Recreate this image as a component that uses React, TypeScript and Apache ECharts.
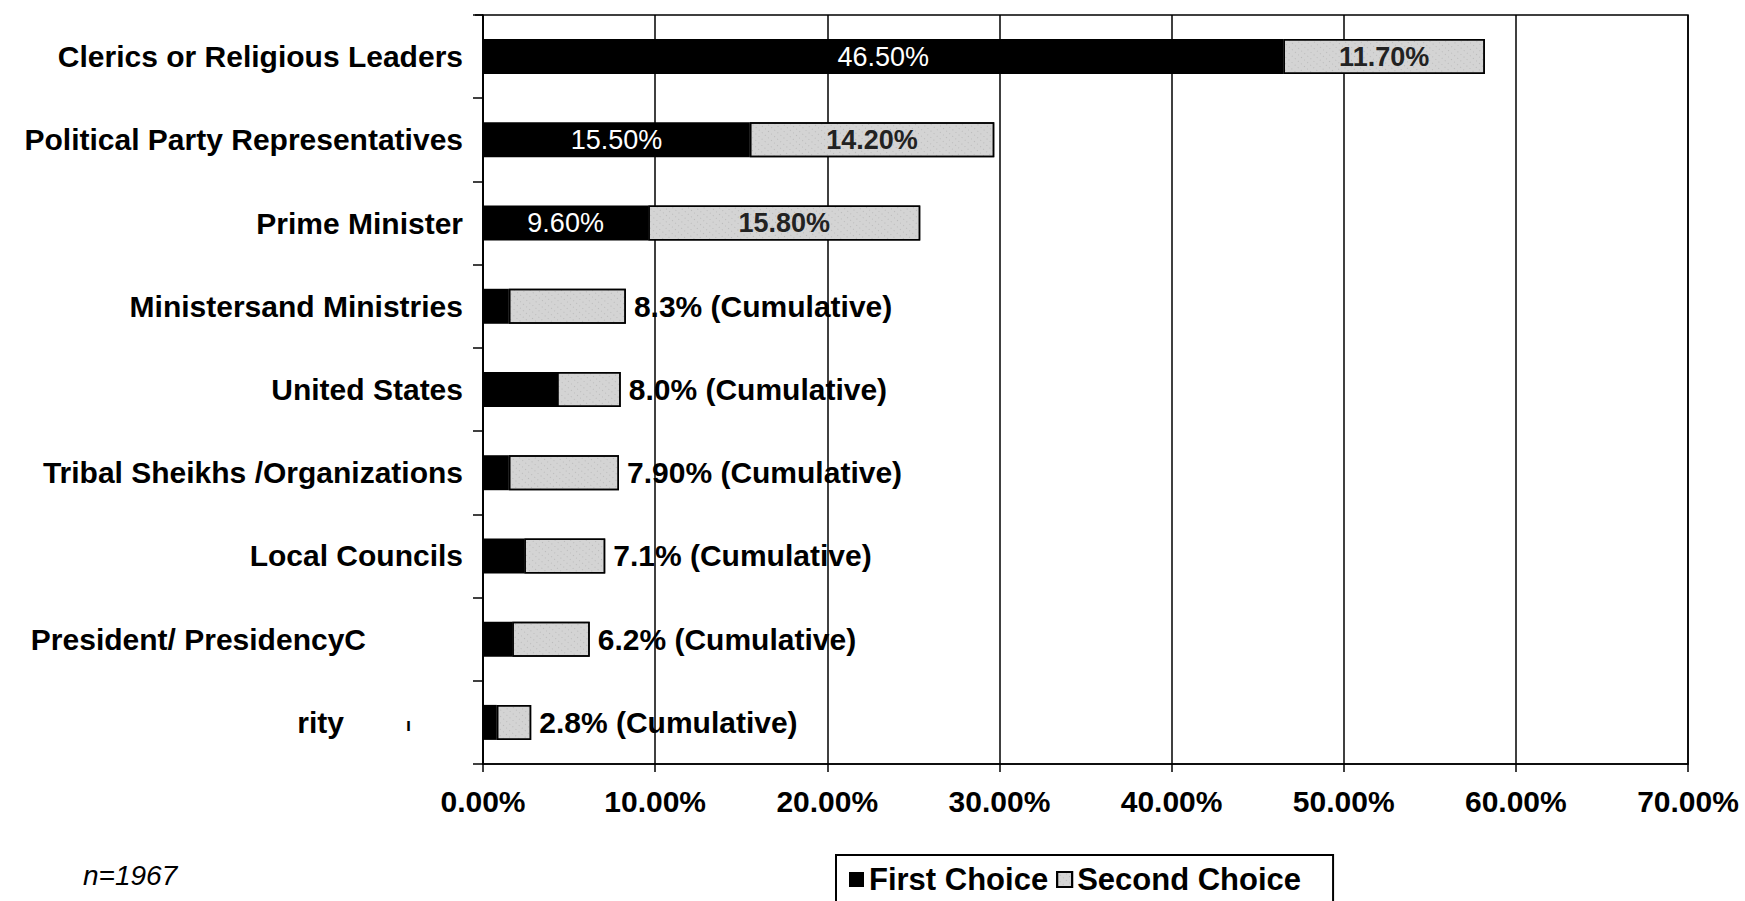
import React, { useEffect, useRef } from "react";
import * as echarts from "echarts";

const categories = [
  "Clerics or Religious Leaders",
  "Political Party Representatives",
  "Prime Minister",
  "Ministersand Ministries",
  "United States",
  "Tribal Sheikhs /Organizations",
  "Local Councils",
  "President/ PresidencyC",
  "rity",
];
const firstChoice = [46.5, 15.5, 9.6, 1.5, 4.3, 1.5, 2.4, 1.7, 0.8];
const secondChoice = [11.7, 14.2, 15.8, 6.8, 3.7, 6.4, 4.7, 4.5, 2.0];
const firstLabels = ["46.50%", "15.50%", "9.60%", "", "", "", "", "", ""];
const secondLabels = [
  "11.70%",
  "14.20%",
  "15.80%",
  "8.3% (Cumulative)",
  "8.0% (Cumulative)",
  "7.90% (Cumulative)",
  "7.1% (Cumulative)",
  "6.2% (Cumulative)",
  "2.8% (Cumulative)",
];
const xMin = 0;
const xMax = 70;
const xStep = 10;
const seriesNames = ["First Choice", "Second Choice"];
const note = "n=1967";

const FONT = "'Liberation Sans', Arial, Helvetica, sans-serif";

export default function App() {
  const ref = useRef<HTMLDivElement>(null);
  useEffect(() => {
    document.body.style.margin = "0";
    const chart = echarts.init(ref.current!, null, { renderer: "svg" });
    const option: any = {
      animation: false,
      backgroundColor: "#fff",
      textStyle: { fontFamily: FONT },
      grid: {
        left: 483,
        right: 57,
        top: 15,
        bottom: 137,
        show: true,
        borderColor: "#000",
        borderWidth: 1.5,
        containLabel: false,
      },
      legend: {
        data: seriesNames,
        left: 836,
        top: 855,
        orient: "horizontal",
        icon: "rect",
        borderColor: "#000",
        borderWidth: 2,
        padding: [9, 32, 40, 13],
        itemWidth: 15,
        itemHeight: 15,
        itemGap: 8,
        textStyle: { fontFamily: FONT, fontSize: 31, fontWeight: "bold", color: "#000" },
      },
      xAxis: {
        type: "value",
        min: xMin,
        max: xMax,
        interval: xStep,
        axisLine: { show: true, lineStyle: { color: "#000", width: 1.5 } },
        axisTick: { show: true, length: 8, lineStyle: { color: "#000", width: 1.5 } },
        splitLine: { show: true, lineStyle: { color: "#000", width: 1.5 } },
        axisLabel: {
          formatter: (v: number) => v.toFixed(2) + "%",
          fontFamily: FONT,
          fontSize: 30,
          fontWeight: "bold",
          color: "#000",
          margin: 22,
        },
      },
      yAxis: {
        type: "category",
        data: categories,
        inverse: true,
        axisLine: { show: true, lineStyle: { color: "#000", width: 1.5 } },
        axisTick: { show: true, length: 10, lineStyle: { color: "#000", width: 1.5 } },
        axisLabel: {
          fontFamily: FONT,
          fontSize: 30,
          fontWeight: "bold",
          color: "#000",
          margin: 20,
          formatter: (v: string) => {
            if (v === "rity") return "{a|rity}{g| }{m|ı}{h| }";
            if (v === "President/ PresidencyC") return "{a|" + v + "}{p| }";
            return v;
          },
          rich: {
            a: { fontFamily: FONT, fontSize: 30, fontWeight: "bold", color: "#000" },
            g: { width: 62, fontSize: 10 },
            m: { fontFamily: FONT, fontSize: 18, color: "#000", padding: [6, 0, 0, 0] },
            h: { width: 52, fontSize: 10 },
            p: { width: 97, fontSize: 10 },
          },
        },
      },
      series: [
        {
          name: seriesNames[0],
          type: "bar",
          stack: "total",
          barWidth: 35,
          itemStyle: { color: "#000" },
          data: firstChoice.map((v, i) => ({
            value: v,
            label: {
              show: firstLabels[i] !== "",
              position: "inside",
              formatter: () => firstLabels[i],
              color: "#fff",
              fontFamily: FONT,
              fontSize: 27,
            },
          })),
        },
        {
          name: seriesNames[1],
          type: "bar",
          stack: "total",
          barWidth: 35,
          itemStyle: {
            color: "#d4d4d4",
            borderColor: "#000",
            borderWidth: 1.5,
            decal: {
              symbol: "rect",
              symbolSize: 0.6,
              color: "rgba(0,0,0,0.4)",
              dashArrayX: [1, 3],
              dashArrayY: [1, 4],
              rotation: 0.7,
            },
          },
          data: secondChoice.map((v, i) => ({
            value: v,
            label:
              i < 3
                ? {
                    show: true,
                    position: "inside",
                    formatter: () => secondLabels[i],
                    color: "#222",
                    fontFamily: FONT,
                    fontSize: 27,
                    fontWeight: "bold",
                  }
                : {
                    show: true,
                    position: "right",
                    distance: 8,
                    formatter: () => secondLabels[i],
                    color: "#000",
                    fontFamily: FONT,
                    fontSize: 30,
                    fontWeight: "bold",
                  },
          })),
        },
      ],
      graphic: [
        {
          type: "line",
          shape: { x1: 475, y1: 15, x2: 483, y2: 15 },
          style: { stroke: "#000", lineWidth: 1.5 },
        },
        {
          type: "text",
          left: 83,
          top: 861,
          style: {
            text: note,
            fontFamily: FONT,
            fontSize: 28,
            fontStyle: "italic",
            fill: "#000",
          },
        },
      ],
    };
    chart.setOption(option);
    return () => chart.dispose();
  }, []);
  return <div ref={ref} style={{ width: 1745, height: 901 }} />;
}
